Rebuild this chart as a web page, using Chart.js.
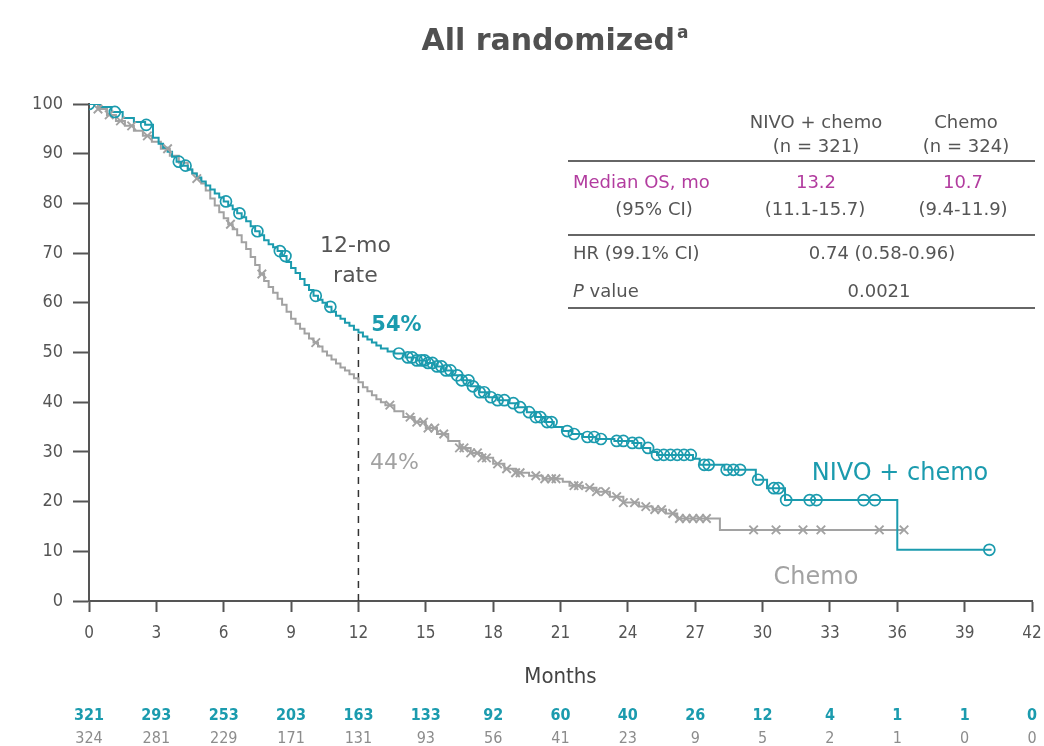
<!DOCTYPE html>
<html><head><meta charset="utf-8">
<script src="https://cdn.jsdelivr.net/npm/chart.js@4/dist/chart.umd.min.js"></script>
<style>html,body{margin:0;padding:0;background:#fff}#wrap{width:1044px;height:746px;position:relative}</style>
</head><body><div id="wrap"><canvas id="c" width="1044" height="746"></canvas></div>
<script>
// ---- data ----
const xTicks = [0,3,6,9,12,15,18,21,24,27,30,33,36,39,42];
const yTicks = [0,10,20,30,40,50,60,70,80,90,100];

const nivoTimes = [0,0.5,1.0,1.5,2.0,2.5,2.85,3.1,3.3,3.5,3.7,3.9,4.1,4.4,4.6,4.8,5.0,5.2,5.4,5.6,5.8,6.0,6.2,6.4,6.6,6.8,7.0,7.2,7.4,7.6,7.8,8.0,8.2,8.4,8.6,8.8,9.0,9.2,9.4,9.6,9.8,10.0,10.2,10.4,10.6,10.8,11.0,11.2,11.4,11.6,11.8,12.0,12.2,12.4,12.6,12.8,13.0,13.3,13.6,14.1,14.6,15.0,15.4,15.8,16.2,16.6,17.0,17.4,17.8,18.2,18.7,19.1,19.5,19.9,20.3,20.7,21.1,21.5,22.0,22.6,23.4,24.2,24.6,25.0,25.3,26.9,27.2,28.3,29.7,30.2,31.0,36.0,40.2];
const nivoSurv  = [100,99.4,98.4,97.2,96.4,95.8,93.2,92.0,91.2,90.4,89.4,88.4,87.6,86.8,86.0,85.2,84.4,83.6,82.8,82.0,81.2,80.4,79.6,78.8,78.0,77.2,76.4,75.4,74.4,73.6,72.6,71.8,71.2,70.4,69.4,68.2,67.0,66.0,64.8,63.6,62.6,61.4,60.6,60.0,59.2,58.2,57.4,56.8,56.0,55.4,54.6,54.0,53.2,52.6,52.0,51.4,50.8,50.2,49.8,49.0,48.4,47.9,47.2,46.4,45.4,44.4,43.2,42.0,41.0,40.4,39.8,39.0,38.0,37.0,36.0,35.0,34.2,33.6,33.0,32.6,32.2,31.8,30.8,30.0,29.4,28.6,27.4,26.4,24.4,22.7,20.3,10.3,10.3];

const chemoTimes = [0,0.4,0.8,1.2,1.6,2.0,2.4,2.8,3.2,3.6,4.0,4.4,4.6,4.8,5.0,5.2,5.4,5.6,5.8,6.0,6.2,6.4,6.6,6.8,7.0,7.2,7.4,7.6,7.8,8.0,8.2,8.4,8.6,8.8,9.0,9.2,9.4,9.6,9.8,10.0,10.2,10.4,10.6,10.8,11.0,11.2,11.4,11.6,11.8,12.0,12.2,12.4,12.6,12.8,13.0,13.2,13.6,14.0,14.5,15.0,15.5,16.0,16.5,17.0,17.5,18.0,18.5,19.0,19.6,20.2,21.1,21.4,22.0,22.6,23.2,23.8,24.5,25.1,25.7,26.2,28.1,36.3];
const chemoSurv  = [100,99.0,97.8,96.6,95.6,94.6,93.6,92.4,91.0,89.6,88.2,86.8,86.0,85.0,84.0,82.6,81.0,79.6,78.2,77.0,75.8,74.8,73.6,72.2,70.8,69.2,67.6,65.8,64.4,63.2,62.0,60.8,59.6,58.2,56.8,55.8,54.8,53.8,52.8,52.0,51.2,50.2,49.4,48.6,47.8,47.0,46.4,45.6,44.8,44.0,43.0,42.2,41.4,40.6,40.0,39.4,38.2,37.0,36.0,34.8,33.6,32.2,30.8,29.8,28.8,27.6,26.6,25.8,25.2,24.6,24.0,23.2,22.8,22.0,21.0,19.8,19.0,18.4,17.6,16.6,14.3,14.3];

const nivoCensor = [0,1.15,2.55,4.0,4.3,6.1,6.7,7.5,8.5,8.75,10.1,10.75,13.8,14.2,14.4,14.6,14.8,14.95,15.1,15.3,15.5,15.7,15.9,16.1,16.4,16.6,16.9,17.1,17.4,17.6,17.9,18.2,18.5,18.9,19.2,19.6,19.9,20.1,20.4,20.6,21.3,21.6,22.2,22.5,22.8,23.5,23.8,24.2,24.5,24.9,25.3,25.6,25.9,26.2,26.5,26.8,27.4,27.6,28.4,28.7,29.0,29.8,30.5,30.7,31.05,32.1,32.4,34.5,35.0,40.1];
const chemoCensor = [0.4,0.9,1.4,1.9,2.6,3.5,4.8,6.3,7.7,10.1,13.4,14.3,14.6,14.9,15.1,15.4,15.8,16.5,16.7,17.0,17.3,17.5,17.7,18.2,18.6,19.0,19.2,19.9,20.3,20.6,20.8,21.6,21.8,22.3,22.6,23.0,23.5,23.8,24.3,24.8,25.2,25.5,26.0,26.3,26.6,26.9,27.2,27.5,29.6,30.6,31.8,32.6,35.2,36.3];

const riskNivo  = [321,293,253,203,163,133,92,60,40,26,12,4,1,1,0];
const riskChemo = [324,281,229,171,131,93,56,41,23,9,5,2,1,0,0];

const rate12 = {month: 12, nivo: 54, chemo: 44};

// ---- colours ----
const TEAL = '#1b9bae';
const GRAY = '#a2a2a2';
const DARK = '#555555';
const MAG  = '#b23c9f';

function pts(ts, ss){ return ts.map((t,i)=>({x:t,y:ss[i]})); }
function stepAt(ts, ss, t){ let v = ss[0]; for(let i=0;i<ts.length;i++){ if(ts[i]<=t) v = ss[i]; } return v; }
function censorPts(cs, ts, ss){ return cs.map(t=>({x:t, y:stepAt(ts,ss,t)})); }

const COND = '"DejaVu Sans Condensed", "DejaVu Sans", sans-serif';
const SANS = '"DejaVu Sans", Verdana, sans-serif';

const overlay = {
  id: 'overlay',
  afterDraw(chart){
    const ctx = chart.ctx, xs = chart.scales.x;
    ctx.save();
    // title
    ctx.fillStyle = '#505050';
    ctx.font = 'bold 30px ' + SANS;
    ctx.textBaseline = 'alphabetic';
    const t = 'All randomized';
    const tw = ctx.measureText(t).width;
    ctx.font = 'bold 17px ' + SANS;
    const sw = ctx.measureText('a').width;
    const x0 = 555 - (tw + sw + 2)/2;
    ctx.font = 'bold 30px ' + SANS;
    ctx.textAlign = 'left';
    ctx.fillText(t, x0, 50);
    ctx.font = 'bold 17px ' + SANS;
    ctx.fillText('a', x0 + tw + 2, 38);

    // table
    ctx.font = '18px ' + SANS;
    ctx.fillStyle = DARK;
    ctx.textAlign = 'center';
    ctx.fillText('NIVO + chemo', 816, 128);
    ctx.fillText('(n = 321)', 816, 152);
    ctx.fillText('Chemo', 966, 128);
    ctx.fillText('(n = 324)', 966, 152);
    ctx.strokeStyle = '#666'; ctx.lineWidth = 2;
    [161, 235, 308].forEach(y=>{ ctx.beginPath(); ctx.moveTo(568,y); ctx.lineTo(1035,y); ctx.stroke(); });
    ctx.fillStyle = MAG;
    ctx.textAlign = 'left';
    ctx.fillText('Median OS, mo', 573, 188);
    ctx.textAlign = 'center';
    ctx.fillText('13.2', 816, 188);
    ctx.fillText('10.7', 963, 188);
    ctx.fillStyle = DARK;
    ctx.fillText('(95% CI)', 654, 215);
    ctx.fillText('(11.1-15.7)', 815, 215);
    ctx.fillText('(9.4-11.9)', 963, 215);
    ctx.textAlign = 'left';
    ctx.fillText('HR (99.1% CI)', 573, 259);
    ctx.textAlign = 'center';
    ctx.fillText('0.74 (0.58-0.96)', 882, 259);
    ctx.textAlign = 'left';
    ctx.font = 'italic 18px ' + SANS;
    ctx.fillText('P', 573, 297);
    const pw = ctx.measureText('P ').width;
    ctx.font = '18px ' + SANS;
    ctx.fillText('value', 573 + pw, 297);
    ctx.textAlign = 'center';
    ctx.fillText('0.0021', 879, 297);

    // annotations
    const x12 = xs.getPixelForValue(rate12.month);
    ctx.font = '22px ' + SANS;
    ctx.fillStyle = DARK;
    ctx.fillText('12-mo', x12 - 3, 252);
    ctx.fillText('rate', x12 - 3, 282);
    ctx.font = 'bold 21px ' + SANS;
    ctx.fillStyle = TEAL;
    ctx.fillText(rate12.nivo + '%', x12 + 38, 331);
    ctx.font = '22px ' + SANS;
    ctx.fillStyle = GRAY;
    ctx.fillText(rate12.chemo + '%', x12 + 36, 469);
    ctx.font = '24px ' + SANS;
    ctx.fillStyle = TEAL;
    ctx.fillText('NIVO + chemo', 900, 480);
    ctx.fillStyle = GRAY;
    ctx.fillText('Chemo', 816, 584);

    // x title
    ctx.font = '22px ' + COND;
    ctx.fillStyle = '#444';
    ctx.fillText('Months', (xs.left + xs.right)/2, 683);

    // at-risk
    xTicks.forEach((m,i)=>{
      const px = xs.getPixelForValue(m);
      ctx.font = 'bold 16px ' + COND;
      ctx.fillStyle = TEAL;
      ctx.fillText(String(riskNivo[i]), px, 720);
      ctx.font = '16px ' + COND;
      ctx.fillStyle = '#8c8c8c';
      ctx.fillText(String(riskChemo[i]), px, 743);
    });
    ctx.restore();
  }
};

new Chart(document.getElementById('c'), {
  type: 'scatter',
  data: {
    datasets: [
      { label:'NIVO censored', data: censorPts(nivoCensor, nivoTimes, nivoSurv), pointStyle:'circle', pointRadius:5.5, pointBorderWidth:1.7, borderColor:TEAL, backgroundColor:'rgba(255,255,255,0)', showLine:false },
      { label:'Chemo censored', data: censorPts(chemoCensor, chemoTimes, chemoSurv), pointStyle:'crossRot', pointRadius:6, pointBorderWidth:1.9, borderColor:GRAY, backgroundColor:GRAY, showLine:false },
      { label:'NIVO + chemo', type:'line', data: pts(nivoTimes, nivoSurv), stepped:'before', borderColor:TEAL, borderWidth:2, pointRadius:0, fill:false },
      { label:'Chemo', type:'line', data: pts(chemoTimes, chemoSurv), stepped:'before', borderColor:GRAY, borderWidth:2, pointRadius:0, fill:false },
      { label:'12-mo', type:'line', data: [{x:rate12.month,y:0},{x:rate12.month,y:rate12.nivo}], borderColor:'#333', borderWidth:1.5, borderDash:[7,6], pointRadius:0, fill:false }
    ]
  },
  options: {
    responsive:false, animation:false, devicePixelRatio:1,
    layout:{ padding:{ left:0, right:12, top:104, bottom:0 } },
    plugins:{ legend:{display:false}, tooltip:{enabled:false}, title:{display:false} },
    scales:{
      x:{ type:'linear', min:0, max:42,
        afterBuildTicks(s){ s.ticks = xTicks.map(v=>({value:v})); },
        afterFit(s){ s.height = 145; s.paddingRight = 0; s.paddingLeft = 0; },
        ticks:{ color:DARK, font:{family:COND, size:17}, padding:11, maxRotation:0, autoSkip:false },
        grid:{ drawOnChartArea:false, drawTicks:true, tickLength:11, tickColor:DARK, tickWidth:2 },
        border:{ color:DARK, width:2 }
      },
      y:{ type:'linear', min:0, max:100,
        afterBuildTicks(s){ s.ticks = yTicks.map(v=>({value:v})); },
        afterFit(s){ s.width = 89; },
        ticks:{ color:DARK, font:{family:COND, size:18}, padding:10 },
        grid:{ drawOnChartArea:false, drawTicks:true, tickLength:16, tickColor:DARK, tickWidth:2 },
        border:{ color:DARK, width:2 }
      }
    }
  },
  plugins:[overlay]
});
</script>
</body></html>
